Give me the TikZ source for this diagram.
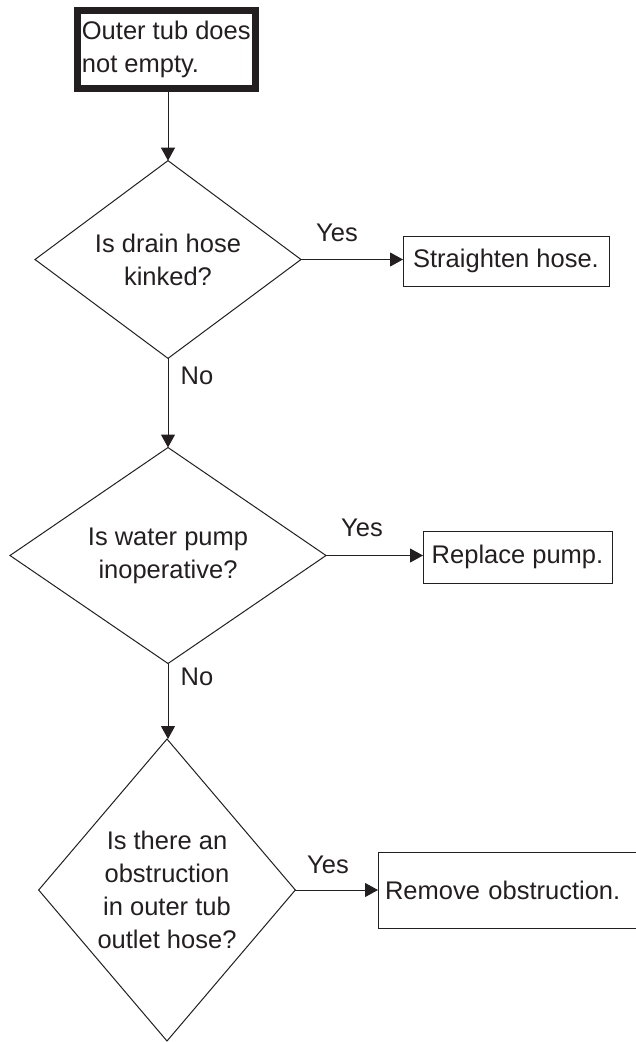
\documentclass[tikz,border=0pt]{standalone}
\usepackage{fontspec}
\setmainfont{Liberation Sans}
\usetikzlibrary{shapes.geometric,arrows.meta}
\definecolor{ink}{HTML}{231F20}
\begin{document}
\begin{tikzpicture}[x=1pt,y=-1pt,
  every node/.style={font=\fontsize{25.5}{33}\selectfont, text=ink},
  dec/.style={draw=ink, line width=1pt, shape=diamond, inner sep=0pt, outer sep=0pt, align=center},
  act/.style={draw=ink, line width=1pt, rectangle, inner sep=0pt, outer sep=0pt},
  startbox/.style={draw=ink, line width=7pt, rectangle, inner sep=0pt, outer sep=0pt, align=left},
  arr/.style={draw=ink, line width=1pt, -{Triangle[length=13pt,width=14pt]}},
  lbl/.style={inner sep=0pt}
]
\clip (0,0) rectangle (636,1042);
\fill[white] (0,0) rectangle (636,1042);

\node[startbox, minimum width=178.5, minimum height=78] (start) at (166.25,49.5) {Outer tub does\\not empty.};

\node[dec, minimum width=266, minimum height=173] (d1) at (168,259.5) {Is drain hose\\kinked?};
\node[dec, minimum width=316, minimum height=185] (d2) at (168,555.5) {Is water pump\\inoperative?};
\node[dec, minimum width=252, minimum height=302] (d3) at (167,890) {Is there an\\obstruction\\in outer tub\\outlet hose?};

\node[act, minimum width=206, minimum height=50] (b1) at (506,261) {Straighten hose.};
\node[act, minimum width=189, minimum height=52] (b2) at (517.5,557) {Replace pump.};
\node[act, minimum width=272, minimum height=76, text width=258, inner xsep=7pt, align=left] (b3) at (514,890) {Remove obstruction.};

\node[lbl] (y1) at (337,233) {Yes};
\node[lbl] (y2) at (362,528) {Yes};
\node[lbl] (y3) at (328,865) {Yes};
\node[lbl] (n1) at (197,376) {No};
\node[lbl] (n2) at (197,677) {No};

\draw[arr] (d1.north |- start.south) -- (d1.north);
\draw[arr] (d1.south) -- (d2.north);
\draw[arr] (d2.south) -- (d2.south |- d3.north);
\draw[arr] (d1.east) -- (d1.east -| b1.west);
\draw[arr] (d2.east) -- (d2.east -| b2.west);
\draw[arr] (d3.east) -- (d3.east -| b3.west);
\end{tikzpicture}
\end{document}
